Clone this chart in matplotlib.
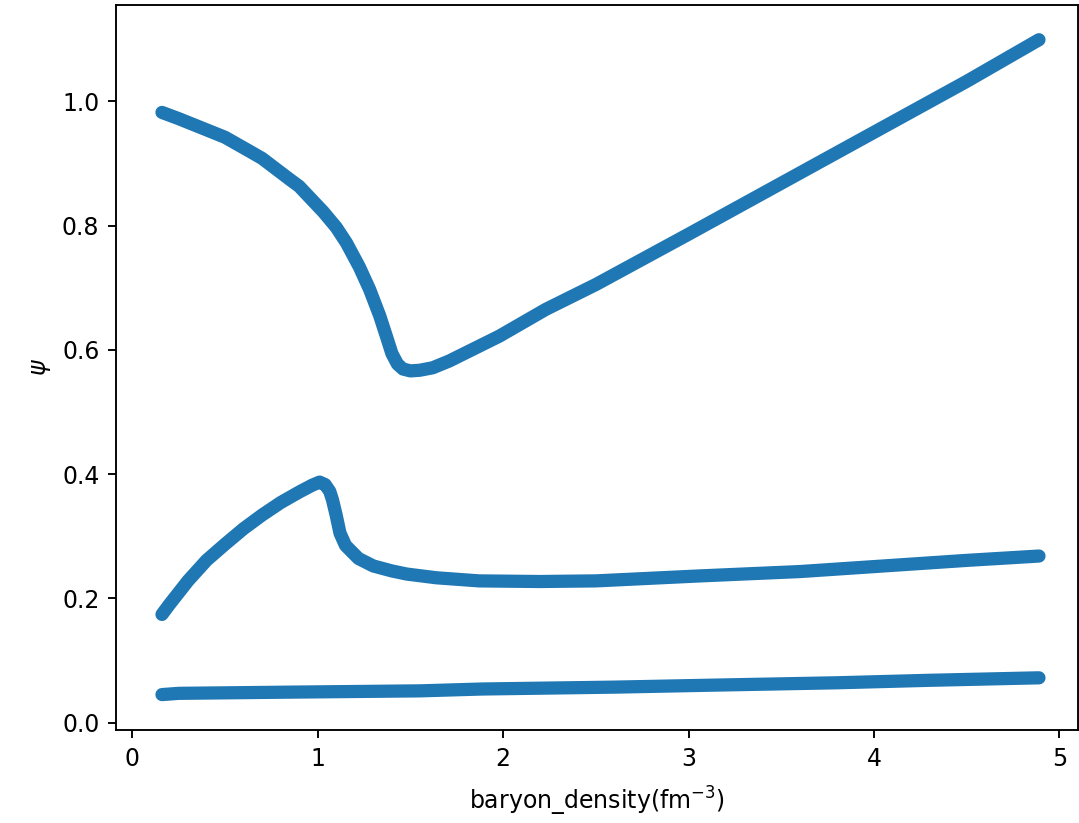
import numpy as np
import matplotlib
matplotlib.use("Agg")
import matplotlib.pyplot as plt

# upper branch
x_top = [0.16, 0.25, 0.40, 0.50, 0.63, 0.70, 0.85, 0.90, 1.03, 1.10, 1.155, 1.225, 1.28,
         1.334, 1.37, 1.40, 1.43, 1.46, 1.50, 1.55, 1.62, 1.71, 1.98, 2.23, 2.50, 3.00, 3.50,
         4.00, 4.50, 4.89]
y_top = [0.982, 0.972, 0.954, 0.942, 0.920, 0.908, 0.874, 0.863, 0.822, 0.797, 0.772, 0.733, 0.697,
         0.655, 0.622, 0.594, 0.577, 0.569, 0.566, 0.567, 0.571, 0.582, 0.622, 0.665, 0.705, 0.786,
         0.868, 0.950, 1.032, 1.099]

# middle branch
x_mid = [0.16, 0.20, 0.30, 0.40, 0.50, 0.60, 0.70, 0.80, 0.90, 0.97, 1.01, 1.04, 1.065,
         1.08, 1.10, 1.12, 1.15, 1.22, 1.30, 1.40, 1.48, 1.64, 1.87, 2.20, 2.50, 3.06,
         3.60, 4.05, 4.50, 4.89]
y_mid = [0.174, 0.190, 0.228, 0.261, 0.287, 0.312, 0.334, 0.354, 0.371, 0.382, 0.387, 0.383, 0.372,
         0.358, 0.333, 0.305, 0.285, 0.264, 0.252, 0.244, 0.239, 0.233, 0.228, 0.227, 0.228, 0.236,
         0.243, 0.252, 0.261, 0.268]

# lower branch
x_low = [0.16, 0.25, 0.87, 1.55, 1.89, 2.60, 3.10, 3.80, 4.30, 4.89]
y_low = [0.045, 0.047, 0.049, 0.051, 0.054, 0.057, 0.060, 0.064, 0.068, 0.072]

fig = plt.figure(figsize=(1079/170, 823/170), dpi=170)
ax = fig.add_axes([0.1075, 0.113, 0.8915, 0.881])

for xs, ys in [(x_top, y_top), (x_mid, y_mid), (x_low, y_low)]:
    ax.plot(xs, ys, color='#1f77b4', lw=5.6, solid_capstyle='round', solid_joinstyle='round')

ax.set_xlim(-0.088, 5.10)
ax.set_ylim(-0.012, 1.155)
ax.set_xlabel(r'baryon_density(fm$^{-3}$)', labelpad=6)
ax.set_ylabel(r'$\psi$')

fig.savefig('out.png', dpi=170)
